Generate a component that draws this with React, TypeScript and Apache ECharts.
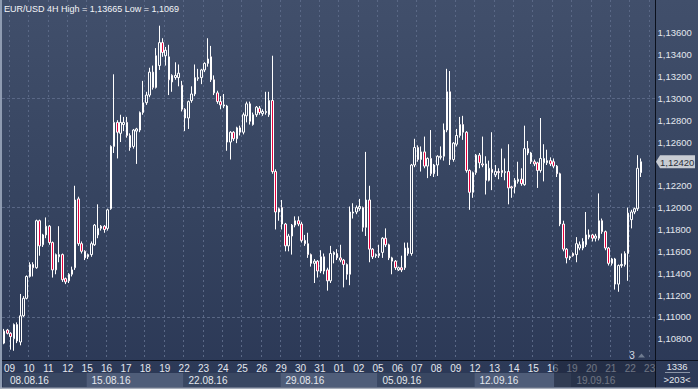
import React, { useEffect, useRef } from 'react';
import * as echarts from 'echarts';

const TITLE = 'EUR/USD 4H High = 1,13665 Low = 1,1069';

const TRADING_DAYS = [
  '08.08.16', '09.08.16', '10.08.16', '11.08.16', '12.08.16',
  '15.08.16', '16.08.16', '17.08.16', '18.08.16', '19.08.16',
  '22.08.16', '23.08.16', '24.08.16', '25.08.16', '26.08.16',
  '29.08.16', '30.08.16', '31.08.16', '01.09.16', '02.09.16',
  '05.09.16', '06.09.16', '07.09.16', '08.09.16', '09.09.16',
  '12.09.16', '13.09.16', '14.09.16', '15.09.16', '16.09.16',
  '19.09.16', '20.09.16', '21.09.16', '22.09.16', '23.09.16',
];
const HOURS = ['00:00', '04:00', '08:00', '12:00', '16:00', '20:00'];
const FIRST_SLOT = 4;
const SLOT_COUNT = 202;
const WEEK_STARTS = ['08.08.16', '15.08.16', '22.08.16', '29.08.16', '05.09.16', '12.09.16', '19.09.16'];
const SHADED_FROM_DAY = '16.09.16';

const Y_MIN = 1.106;
const Y_MAX = 1.139;
const Y_STEP = 0.002;
const Y_TICKS = [1.108, 1.11, 1.112, 1.114, 1.116, 1.118, 1.12, 1.122, 1.124, 1.126, 1.128, 1.13, 1.132, 1.134, 1.136];
const LAST_PRICE = 1.1242;
const BAR_COUNT_TEXT = '1336';
const BAR_RANGE_TEXT = '>203<';
const MARKER_TEXT = '3';

// [open, close, low, high]
const WEEK_0808 = [
  [1.1076, 1.1087, 1.1075, 1.1089], [1.1088, 1.1085, 1.1084, 1.1089],
  [1.1085, 1.1082, 1.1070, 1.1086], [1.1080, 1.1093, 1.1069, 1.1094], [1.1093, 1.1078, 1.1076, 1.1095],
  [1.1077, 1.1101, 1.1074, 1.1121], [1.1101, 1.1117, 1.1100, 1.1119], [1.1117, 1.1137, 1.1116, 1.1138],
  [1.1137, 1.1148, 1.1136, 1.1150], [1.1148, 1.1145, 1.1137, 1.1150], [1.1145, 1.1188, 1.1144, 1.1189],
  [1.1188, 1.1165, 1.1156, 1.1189], [1.1166, 1.1175, 1.1164, 1.1176], [1.1175, 1.1183, 1.1172, 1.1191],
  [1.1183, 1.1168, 1.1166, 1.1184], [1.1168, 1.1143, 1.1136, 1.1169], [1.1143, 1.1157, 1.1139, 1.1158],
  [1.1155, 1.1157, 1.1150, 1.1183], [1.1157, 1.1134, 1.1132, 1.1158], [1.1135, 1.1132, 1.1130, 1.1136],
  [1.1133, 1.1139, 1.1131, 1.1140], [1.1139, 1.1143, 1.1137, 1.1146], [1.1145, 1.1207, 1.1143, 1.1220],
  [1.1208, 1.1167, 1.1165, 1.1210], [1.1167, 1.1160, 1.1158, 1.1169], [1.1160, 1.1154, 1.1152, 1.1161],
];
const WEEK_1508 = [
  [1.1155, 1.1157, 1.1153, 1.1158], [1.1157, 1.1167, 1.1155, 1.1169], [1.1166, 1.1184, 1.1165, 1.1185],
  [1.1175, 1.1181, 1.1172, 1.1203], [1.1181, 1.1183, 1.1179, 1.1184], [1.1183, 1.1180, 1.1177, 1.1184],
  [1.1181, 1.1198, 1.1179, 1.1199], [1.1199, 1.1256, 1.1198, 1.1257], [1.1256, 1.1278, 1.1250, 1.1322],
  [1.1278, 1.1269, 1.1245, 1.1280], [1.1268, 1.1278, 1.1260, 1.1285], [1.1276, 1.1278, 1.1270, 1.1283],
  [1.1278, 1.1266, 1.1264, 1.1283], [1.1266, 1.1255, 1.1252, 1.1268], [1.1256, 1.1271, 1.1254, 1.1272],
  [1.1270, 1.1272, 1.1240, 1.1273], [1.1271, 1.1287, 1.1269, 1.1288], [1.1287, 1.1296, 1.1285, 1.1316],
  [1.1296, 1.1303, 1.1294, 1.1306], [1.1303, 1.1324, 1.1301, 1.1328], [1.1324, 1.1310, 1.1308, 1.1330],
  [1.1310, 1.1339, 1.1309, 1.1346], [1.1330, 1.1351, 1.1326, 1.13665], [1.1351, 1.1342, 1.1338, 1.1355],
  [1.1339, 1.1344, 1.1330, 1.1347], [1.1338, 1.1317, 1.1303, 1.1349], [1.1315, 1.1321, 1.1306, 1.1322],
  [1.1319, 1.1321, 1.1317, 1.1333], [1.1319, 1.1323, 1.1311, 1.1331], [1.1312, 1.1290, 1.1288, 1.1316],
];
const WEEK_2208 = [
  [1.1290, 1.1282, 1.1270, 1.1291], [1.1282, 1.1297, 1.1272, 1.1298], [1.1298, 1.1304, 1.1296, 1.1311],
  [1.1304, 1.1319, 1.1302, 1.1331], [1.1318, 1.1319, 1.1316, 1.1327], [1.1319, 1.1326, 1.1313, 1.1327],
  [1.1326, 1.1332, 1.1324, 1.1333], [1.1332, 1.1336, 1.1329, 1.1355], [1.1338, 1.1317, 1.1315, 1.1348],
  [1.1317, 1.1305, 1.1303, 1.1321], [1.1305, 1.1297, 1.1295, 1.1307], [1.1297, 1.1294, 1.1290, 1.1302],
  [1.1293, 1.1294, 1.1291, 1.1304], [1.1293, 1.1260, 1.1252, 1.1294], [1.1260, 1.1269, 1.1244, 1.1270],
  [1.1269, 1.1263, 1.1261, 1.1270], [1.1263, 1.1273, 1.1259, 1.1274], [1.1273, 1.1269, 1.1266, 1.1275],
  [1.1269, 1.1285, 1.1267, 1.1287], [1.1284, 1.1295, 1.1278, 1.1297], [1.1295, 1.1279, 1.1276, 1.1297],
  [1.1276, 1.1285, 1.1275, 1.1287], [1.1285, 1.1292, 1.1283, 1.1293], [1.1291, 1.1287, 1.1285, 1.1293],
  [1.1286, 1.1288, 1.1284, 1.1290], [1.1287, 1.1288, 1.1285, 1.1306], [1.1285, 1.1298, 1.1283, 1.1306],
  [1.1298, 1.1233, 1.1231, 1.1339], [1.1233, 1.1196, 1.1180, 1.1235], [1.1196, 1.1199, 1.1188, 1.1200],
];
const WEEK_2908 = [
  [1.1200, 1.1185, 1.1180, 1.1207], [1.1185, 1.1165, 1.1160, 1.1186], [1.1165, 1.1174, 1.1160, 1.1176],
  [1.1174, 1.1184, 1.1157, 1.1185], [1.1184, 1.1188, 1.1182, 1.1192], [1.1188, 1.1185, 1.1183, 1.1192],
  [1.1185, 1.1170, 1.1168, 1.1187], [1.1170, 1.1167, 1.1165, 1.1175], [1.1167, 1.1157, 1.1154, 1.1177],
  [1.1157, 1.1149, 1.1146, 1.1158], [1.1149, 1.1151, 1.1131, 1.1153], [1.1151, 1.1142, 1.1136, 1.1152],
  [1.1142, 1.1155, 1.1140, 1.1161], [1.1155, 1.1142, 1.1139, 1.1158], [1.1143, 1.1133, 1.1124, 1.1145],
  [1.1133, 1.1158, 1.1131, 1.1165], [1.1157, 1.1159, 1.1149, 1.1160], [1.1158, 1.1154, 1.1152, 1.1162],
  [1.1154, 1.1152, 1.1150, 1.1166], [1.1152, 1.1148, 1.1127, 1.1153], [1.1148, 1.1139, 1.1134, 1.1149],
  [1.1139, 1.1196, 1.1129, 1.1201], [1.1195, 1.1196, 1.1190, 1.1204], [1.1196, 1.1200, 1.1194, 1.1202],
  [1.1199, 1.1201, 1.1197, 1.1208], [1.1200, 1.1182, 1.1178, 1.1201], [1.1182, 1.1207, 1.1174, 1.1251],
  [1.1207, 1.1162, 1.1150, 1.1220], [1.1162, 1.1155, 1.1153, 1.1163], [1.1156, 1.1157, 1.1154, 1.1158],
];
const WEEK_0509 = [
  [1.1156, 1.1158, 1.1154, 1.1166], [1.1159, 1.1172, 1.1154, 1.1173], [1.1172, 1.1166, 1.1164, 1.1181],
  [1.1166, 1.1154, 1.1152, 1.1167], [1.1154, 1.1151, 1.1139, 1.1155], [1.1151, 1.1145, 1.1143, 1.1152],
  [1.1143, 1.1145, 1.1142, 1.1146], [1.1145, 1.1143, 1.1141, 1.1156], [1.1145, 1.1163, 1.1143, 1.1168],
  [1.1163, 1.1158, 1.1156, 1.1168], [1.1158, 1.1239, 1.1156, 1.1240], [1.1239, 1.1255, 1.1237, 1.1263],
  [1.1255, 1.1244, 1.1242, 1.1257], [1.1244, 1.1251, 1.1233, 1.1256], [1.1251, 1.1238, 1.1236, 1.1265],
  [1.1238, 1.1245, 1.1227, 1.1246], [1.1245, 1.1231, 1.1229, 1.1271], [1.1231, 1.1239, 1.1228, 1.1240],
  [1.1239, 1.1247, 1.1229, 1.1248], [1.1246, 1.1247, 1.1244, 1.1256], [1.1247, 1.1271, 1.1243, 1.1277],
  [1.1271, 1.1306, 1.1269, 1.1327], [1.1306, 1.1244, 1.1239, 1.1325], [1.1244, 1.1259, 1.1242, 1.1260],
  [1.1258, 1.1266, 1.1256, 1.1272], [1.1266, 1.1276, 1.1264, 1.1283], [1.1276, 1.1269, 1.1262, 1.1284],
  [1.1269, 1.1234, 1.1232, 1.1270], [1.1234, 1.1214, 1.1198, 1.1235], [1.1214, 1.1232, 1.1209, 1.1233],
];
const WEEK_1209 = [
  [1.1232, 1.1248, 1.1230, 1.1249], [1.1248, 1.1241, 1.1236, 1.1250], [1.1240, 1.1239, 1.1237, 1.1265],
  [1.1240, 1.1225, 1.1212, 1.1247], [1.1225, 1.1236, 1.1224, 1.1243], [1.1235, 1.1232, 1.1216, 1.1269],
  [1.1230, 1.1233, 1.1228, 1.1239], [1.1233, 1.1232, 1.1226, 1.1236], [1.1234, 1.1232, 1.1228, 1.1254],
  [1.1232, 1.1233, 1.1225, 1.1245], [1.1233, 1.1218, 1.1203, 1.1258], [1.1219, 1.1218, 1.1209, 1.1220],
  [1.1219, 1.1225, 1.1213, 1.1227], [1.1224, 1.1226, 1.1222, 1.1242], [1.1226, 1.1222, 1.1220, 1.1236],
  [1.1221, 1.1254, 1.1220, 1.1275], [1.1254, 1.1250, 1.1248, 1.1261], [1.1250, 1.1242, 1.1240, 1.1251],
  [1.1242, 1.1240, 1.1238, 1.1244], [1.1241, 1.1234, 1.1218, 1.1242], [1.1234, 1.1245, 1.1232, 1.1282],
  [1.1241, 1.1245, 1.1224, 1.1258], [1.1241, 1.1243, 1.1239, 1.1253], [1.1243, 1.1240, 1.1238, 1.1246],
  [1.1242, 1.1238, 1.1236, 1.1245], [1.1238, 1.1231, 1.1228, 1.1239], [1.1231, 1.1185, 1.1183, 1.1232],
  [1.1185, 1.1162, 1.1160, 1.1188], [1.1162, 1.1154, 1.1149, 1.1163], [1.1154, 1.1155, 1.1152, 1.1156],
];
const WEEK_1909 = [
  [1.1158, 1.1156, 1.1155, 1.1159], [1.1157, 1.1167, 1.1150, 1.1173], [1.1163, 1.1166, 1.1161, 1.1169],
  [1.1163, 1.1169, 1.1161, 1.1172], [1.1166, 1.1175, 1.1164, 1.1196], [1.1175, 1.1173, 1.1171, 1.1180],
  [1.1175, 1.1172, 1.1169, 1.1176], [1.1172, 1.1174, 1.1169, 1.1176], [1.1172, 1.1188, 1.1170, 1.1213],
  [1.1188, 1.1178, 1.1176, 1.1190], [1.1178, 1.1163, 1.1161, 1.1179], [1.1163, 1.1149, 1.1147, 1.1164],
  [1.1149, 1.1153, 1.1147, 1.1154], [1.1153, 1.1130, 1.1125, 1.1154], [1.1130, 1.1147, 1.1123, 1.1148],
  [1.1147, 1.1148, 1.1145, 1.1158], [1.1148, 1.1158, 1.1146, 1.1160], [1.1158, 1.1195, 1.1133, 1.1200],
  [1.1189, 1.1196, 1.1181, 1.1198], [1.1196, 1.1199, 1.1194, 1.1200], [1.1199, 1.1236, 1.1197, 1.1248],
  [1.1232, 1.1242, 1.1228, 1.1245],
];

const CATEGORIES: string[] = TRADING_DAYS.flatMap((d) => HOURS.map((h) => `${d} ${h}`)).slice(
  FIRST_SLOT,
  FIRST_SLOT + SLOT_COUNT
);
const CANDLES = [...WEEK_0808, ...WEEK_1508, ...WEEK_2208, ...WEEK_2908, ...WEEK_0509, ...WEEK_1209, ...WEEK_1909];

const FONT_FAMILY = '"Liberation Sans", Arial, sans-serif';
const TEXT = '#e3e7ee';
const W = 698;
const H = 389;
const GRID_LEFT = 2.5;
const GRID_RIGHT_PX = 655.5;
const GRID_BOTTOM_PX = 360.6;

const fmt = (v: number) => v.toFixed(5).replace('.', ',');
const isDayStart = (i: number) => !!CATEGORIES[i] && CATEGORIES[i].endsWith(' 00:00');

export default function App() {
  const ref = useRef<HTMLDivElement>(null);

  useEffect(() => {
    const el = ref.current;
    if (!el) return;
    const chart = echarts.init(el, undefined, { renderer: 'svg' });
    chart.setOption({
      animation: false,
      backgroundColor: 'transparent',
      grid: { left: GRID_LEFT, right: W - GRID_RIGHT_PX, top: 0, bottom: H - GRID_BOTTOM_PX },
      xAxis: {
        type: 'category',
        data: CATEGORIES,
        boundaryGap: true,
        axisLine: { show: false },
        axisTick: { show: false },
        axisLabel: {
          interval: (i: number) => isDayStart(i),
          formatter: (v: string) => v.slice(0, 2),
          color: TEXT,
          fontSize: 10,
          fontFamily: FONT_FAMILY,
          margin: 3,
          padding: [0, 2, 0, 0],
        },
        splitLine: {
          show: true,
          interval: (i: number) => isDayStart(i),
          lineStyle: { color: '#5a6886', type: [2, 3], width: 1 },
        },
      },
      yAxis: {
        type: 'value',
        position: 'right',
        min: Y_MIN,
        max: Y_MAX,
        interval: Y_STEP,
        axisLine: { show: false },
        axisTick: { show: false },
        splitLine: { show: false },
        axisLabel: {
          color: TEXT,
          fontSize: 9.5,
          fontFamily: FONT_FAMILY,
          margin: 2,
          formatter: (v: number) =>
            Y_TICKS.some((t) => Math.abs(t - v) < 1e-7) && Math.abs(v - LAST_PRICE) > 0.0006 ? fmt(v) : '',
        },
      },
      series: [
        {
          type: 'candlestick',
          data: CANDLES,
          barWidth: 2,
          z: 3,
          itemStyle: {
            color: 'rgba(0,0,0,0)',
            color0: '#e8003c',
            borderColor: '#ffffff',
            borderColor0: '#ffffff',
            borderWidth: 1,
          },
          markLine: {
            silent: true,
            z: 1,
            symbol: ['none', 'none'],
            label: { show: false },
            lineStyle: { color: '#5a6886', type: [2, 3], width: 1 },
            data: Y_TICKS.map((v) => ({ yAxis: v })),
          },
        },
      ],
    });

    const px = (i: number) => chart.convertToPixel({ xAxisIndex: 0 }, i) as number;
    const band = px(1) - px(0);
    const boundary = (i: number) => px(i) - band / 2;
    const idxOf = (day: string) => CATEGORIES.indexOf(`${day} 00:00`);

    const els: any[] = [];
    WEEK_STARTS.forEach((ws, k) => {
      const i = idxOf(ws);
      const x0 = i < 0 ? GRID_LEFT + 0.5 : boundary(i);
      const next = WEEK_STARTS[k + 1];
      const x1 = next ? boundary(idxOf(next)) : GRID_RIGHT_PX;
      els.push({
        type: 'rect',
        z: 50,
        shape: { x: x0, y: 373, width: x1 - x0, height: 14 },
        style: { fill: k % 2 === 0 ? '#394762' : '#4f5d79' },
        silent: true,
      });
      els.push({
        type: 'text',
        z: 51,
        style: {
          text: ws,
          x: x0 + (i < 0 ? 7 : 5),
          y: 380,
          fill: TEXT,
          font: `10px ${FONT_FAMILY}`,
          verticalAlign: 'middle',
        },
        silent: true,
      });
    });
    const shadeX = boundary(idxOf(SHADED_FROM_DAY)) + 2;
    els.push({
      type: 'rect',
      z: 60,
      shape: { x: shadeX, y: 361, width: GRID_RIGHT_PX - shadeX, height: 26 },
      style: { fill: 'rgba(30,38,58,0.6)' },
      silent: true,
    });
    els.push({ type: 'line', z: 70, shape: { x1: 0, y1: 360.5, x2: W, y2: 360.5 }, style: { stroke: '#0b101c', lineWidth: 1 } });
    els.push({ type: 'line', z: 70, shape: { x1: 655.5, y1: 0, x2: 655.5, y2: H }, style: { stroke: '#0b101c', lineWidth: 1 } });
    els.push({ type: 'rect', z: 80, shape: { x: 0, y: 0, width: 2, height: H }, style: { fill: '#8e9bb1' } });
    els.push({ type: 'rect', z: 80, shape: { x: 0, y: 387.5, width: W, height: 1.5 }, style: { fill: '#a7aebb' } });
    els.push({
      type: 'text',
      z: 90,
      style: { text: TITLE, x: 4, y: 8.5, fill: '#f2f4f7', font: `9px ${FONT_FAMILY}`, verticalAlign: 'middle' },
    });
    els.push({
      type: 'text',
      z: 90,
      style: { text: BAR_COUNT_TEXT, x: 677, y: 366.5, fill: TEXT, font: `9.5px ${FONT_FAMILY}`, align: 'center', verticalAlign: 'middle' },
    });
    els.push({ type: 'line', z: 90, shape: { x1: 665, y1: 372.5, x2: 690, y2: 372.5 }, style: { stroke: '#8a94a6', lineWidth: 1 } });
    els.push({
      type: 'text',
      z: 90,
      style: { text: BAR_RANGE_TEXT, x: 677, y: 379, fill: TEXT, font: `9.5px ${FONT_FAMILY}`, align: 'center', verticalAlign: 'middle' },
    });
    els.push({
      type: 'text',
      z: 90,
      style: { text: MARKER_TEXT, x: 632, y: 355.5, fill: '#d6dbe4', font: `10px ${FONT_FAMILY}`, align: 'center', verticalAlign: 'middle' },
    });
    els.push({
      type: 'polygon',
      z: 90,
      shape: { points: [[638, 357.5], [645, 357.5], [641.5, 353.5]] },
      style: { fill: '#6f7b90' },
    });
    const yc = chart.convertToPixel({ yAxisIndex: 0 }, LAST_PRICE) as number;
    els.push({
      type: 'polygon',
      z: 90,
      shape: { points: [[656, yc], [660, yc - 6.5], [695, yc - 6.5], [695, yc + 6.5], [660, yc + 6.5]] },
      style: { fill: '#c8ccd3' },
    });
    els.push({
      type: 'text',
      z: 91,
      style: { text: fmt(LAST_PRICE), x: 660, y: yc + 0.5, fill: '#2a2f3a', font: `9.5px ${FONT_FAMILY}`, verticalAlign: 'middle' },
    });

    chart.setOption({ graphic: { elements: els } });

    return () => chart.dispose();
  }, []);

  return (
    <div
      ref={ref}
      style={{
        position: 'fixed',
        left: 0,
        top: 0,
        width: W,
        height: H,
        background: 'linear-gradient(180deg, #414f6b 0%, #35435f 55%, #2b3856 100%)',
      }}
    />
  );
}
